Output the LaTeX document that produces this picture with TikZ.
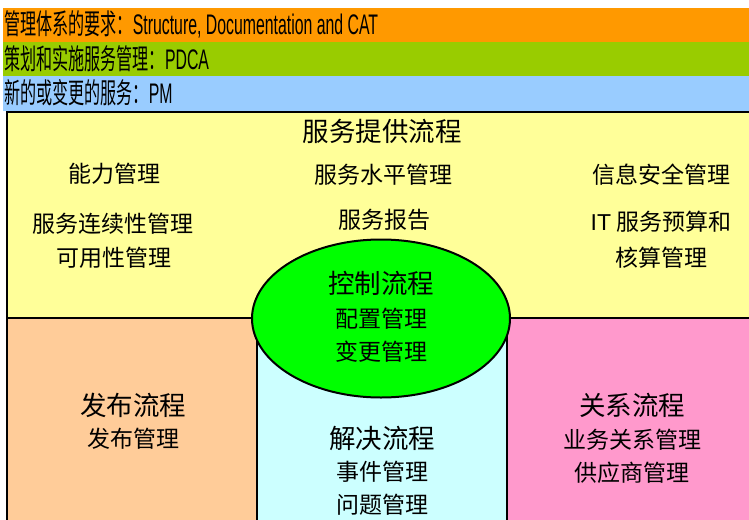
\documentclass[tikz,border=0pt]{standalone}
\usepackage{fontspec}
\usepackage{graphicx}
\setmainfont{Liberation Sans}
\newfontfamily\zh{Noto Sans CJK SC}
\definecolor{bandorange}{HTML}{FF9900}
\definecolor{bandgreen}{HTML}{99CC00}
\definecolor{bandblue}{HTML}{99CCFF}
\definecolor{boxyellow}{HTML}{FFFF99}
\definecolor{boxpeach}{HTML}{FFCC99}
\definecolor{boxcyan}{HTML}{CCFFFF}
\definecolor{boxpink}{HTML}{FF99CC}
\definecolor{ctlgreen}{HTML}{00FF00}
\tikzset{
  region/.style={draw=black, line width=2pt},
  bandtext/.style={anchor=west, inner sep=0pt, font=\fontsize{24}{28}\selectfont},
  ttl/.style={inner sep=0pt, font=\zh\fontsize{26.5}{30}\selectfont},
  item/.style={inner sep=0pt, font=\zh\fontsize{23}{27}\selectfont},
}
\newcommand{\zhnarrow}[1]{\scalebox{0.67}[1.18]{\zh #1}}
\newcommand{\ltnarrow}[1]{\scalebox{0.66}[1.18]{#1}}
\begin{document}
\begin{tikzpicture}[x=1pt,y=-1pt]
\useasboundingbox (0,0) rectangle (749,519);
\clip (0,0) rectangle (749,519);
% bands
\fill[bandorange] (3,8) rectangle (760,42);
\fill[bandgreen] (3,42) rectangle (760,76);
\fill[bandblue] (3,76) rectangle (760,111);
\node[bandtext] (b1) at (4,24.5) {\zhnarrow{管理体系的要求：}\ltnarrow{Structure, Documentation and CAT}};
\node[bandtext] (b2) at (4,59) {\zhnarrow{策划和实施服务管理：}\ltnarrow{PDCA}};
\node[bandtext] (b3) at (4,93) {\zhnarrow{新的或变更的服务：}\ltnarrow{PM}};
% regions
\filldraw[region, fill=boxyellow] (7,112) rectangle (770,540);
\filldraw[region, fill=boxpeach] (7,318) rectangle (257,540);
\filldraw[region, fill=boxpink] (507,318) rectangle (770,540);
\fill[boxcyan] (257,318) rectangle (507,540);
\draw[region] (257,318) -- (257,540);
\draw[region] (507,318) -- (507,540);
\filldraw[black, line width=2pt, fill=ctlgreen] (381,318.5) ellipse [x radius=129, y radius=79];
% texts: service delivery
\node[ttl] (sd) at (382,131) {服务提供流程};
\node[item] (cap) at (114,173.5) {能力管理};
\node[item] (cont) at (113,224) {服务连续性管理};
\node[item] (avail) at (114,257.5) {可用性管理};
\node[item] (slm) at (383,175) {服务水平管理};
\node[item] (rep) at (384,220) {服务报告};
\node[item] (sec) at (661,175) {信息安全管理};
\node[item] (bud) at (661,222) {{\normalfont IT} 服务预算和};
\node[item] (acc) at (661,257.5) {核算管理};
% control
\node[ttl] (ctl) at (381,283) {控制流程};
\node[item] (cfg) at (381,319) {配置管理};
\node[item] (chg) at (381,352) {变更管理};
% release
\node[ttl] (rel) at (133,405) {发布流程};
\node[item] (relm) at (133,439) {发布管理};
% resolution
\node[ttl] (res) at (382,438) {解决流程};
\node[item] (inc) at (382,472) {事件管理};
\node[item] (prb) at (382,505) {问题管理};
% relationship
\node[ttl] (relp) at (632,405) {关系流程};
\node[item] (brm) at (632,440) {业务关系管理};
\node[item] (sup) at (632,473) {供应商管理};
\end{tikzpicture}
\end{document}
